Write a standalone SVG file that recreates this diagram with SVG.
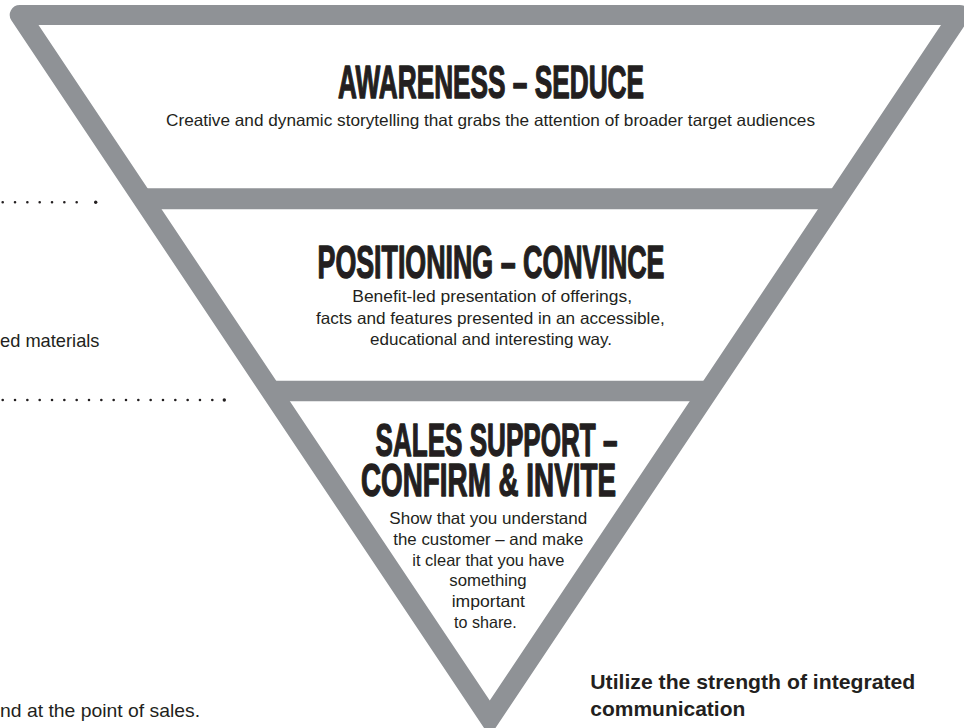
<svg xmlns="http://www.w3.org/2000/svg" width="964" height="728" viewBox="0 0 964 728">
<style>
.shape{fill:#8f9296;fill-rule:evenodd}
.band{fill:none;stroke:#8f9296}
.title{font-family:"Liberation Sans",Arial,sans-serif;font-weight:700;font-size:47px;fill:#231f20;stroke:#231f20;stroke-width:1.4px;stroke-linejoin:round}
.body{font-family:"Liberation Sans",Arial,sans-serif;font-size:16.5px;fill:#231f20}
.side{font-family:"Liberation Sans",Arial,sans-serif;font-size:18.5px;fill:#231f20}
.lead{font-family:"Liberation Sans",Arial,sans-serif;font-size:21px;font-weight:700;fill:#231f20}
.dots{fill:none;stroke:#231f20;stroke-width:2.6;stroke-linecap:round;stroke-dasharray:0 12.33}
.end{fill:#231f20}
</style>
<rect width="964" height="728" fill="#ffffff"/>
<g id="funnel">
<path class="shape" d="M19.79,5 L959.71,5 A10,10 0 0 1 968.03,20.56 L489.75,736.56 L11.47,20.56 A10,10 0 0 1 19.79,5 Z M38.5,25 L489.75,700.5 L941,25 Z"/>
<path class="band" stroke-width="21" d="M142,198.8 H838"/>
<path class="band" stroke-width="20.5" d="M270,391 H709"/>
</g>
<g id="connectors">
<path class="dots" d="M2.7,202.3 H77"/>
<circle class="end" cx="95.7" cy="202.3" r="1.7"/>
<path class="dots" d="M2.7,400 H213"/>
<circle class="end" cx="224.3" cy="400" r="1.7"/>
</g>
<g id="awareness">
<text class="title" x="338" y="97.5" textLength="306" lengthAdjust="spacingAndGlyphs">AWARENESS – SEDUCE</text>
<text class="body" x="166" y="126" textLength="649" lengthAdjust="spacingAndGlyphs">Creative and dynamic storytelling that grabs the attention of broader target audiences</text>
</g>
<g id="positioning">
<text class="title" x="317.5" y="277.5" textLength="347" lengthAdjust="spacingAndGlyphs">POSITIONING – CONVINCE</text>
<text class="body" x="352.3" y="302" textLength="279.7" lengthAdjust="spacingAndGlyphs">Benefit-led presentation of offerings,</text>
<text class="body" x="316" y="323.5" textLength="348.7" lengthAdjust="spacingAndGlyphs">facts and features presented in an accessible,</text>
<text class="body" x="370" y="345" textLength="242" lengthAdjust="spacingAndGlyphs">educational and interesting way.</text>
</g>
<g id="sales-support">
<text class="title"><tspan x="375.5" y="455.5" textLength="242" lengthAdjust="spacingAndGlyphs">SALES SUPPORT –</tspan><tspan x="361" y="495.5" textLength="255" lengthAdjust="spacingAndGlyphs">CONFIRM &amp; INVITE</tspan></text>
<text class="body" x="389.3" y="524" textLength="198" lengthAdjust="spacingAndGlyphs">Show that you understand</text>
<text class="body" x="393.3" y="545" textLength="190" lengthAdjust="spacingAndGlyphs">the customer – and make</text>
<text class="body" x="412.3" y="565.7" textLength="152" lengthAdjust="spacingAndGlyphs">it clear that you have</text>
<text class="body" x="449.3" y="586" textLength="77.4" lengthAdjust="spacingAndGlyphs">something</text>
<text class="body" x="451.7" y="606.7" textLength="73.3" lengthAdjust="spacingAndGlyphs">important</text>
<text class="body" x="454" y="628" textLength="62.7" lengthAdjust="spacingAndGlyphs">to share.</text>
</g>
<g id="side-notes">
<text class="side" x="0" y="346.7" textLength="99.5" lengthAdjust="spacingAndGlyphs">ed materials</text>
<text class="side" x="0" y="716.7" textLength="200" lengthAdjust="spacingAndGlyphs">nd at the point of sales.</text>
</g>
<g id="integrated">
<text class="lead" x="590.3" y="689" textLength="325" lengthAdjust="spacingAndGlyphs">Utilize the strength of integrated</text>
<text class="lead" x="590.3" y="716" textLength="155" lengthAdjust="spacingAndGlyphs">communication</text>
</g>
</svg>
